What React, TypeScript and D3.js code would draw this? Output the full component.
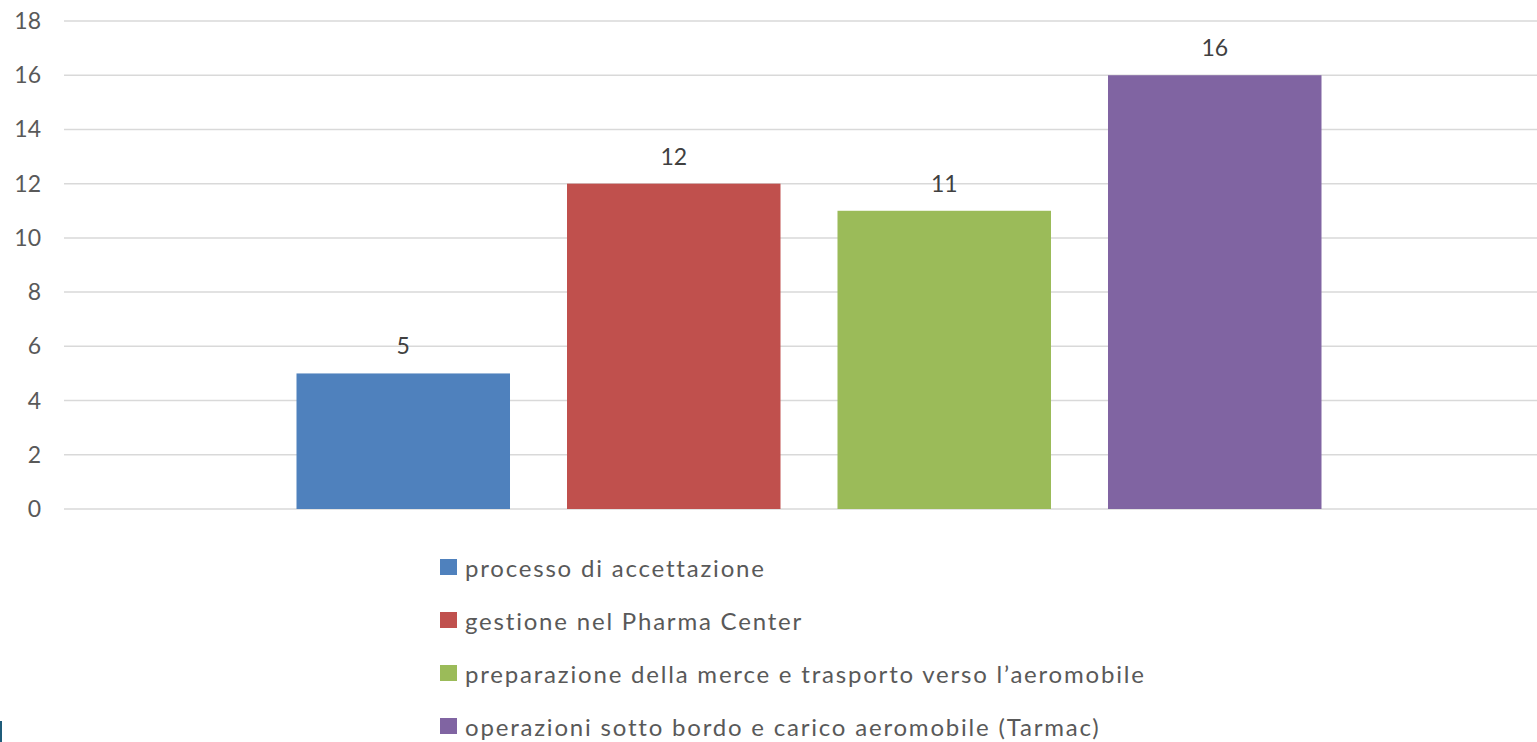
import React from "react";
import * as d3 from "d3";

const series = [
  "processo di accettazione",
  "gestione nel Pharma Center",
  "preparazione della merce e trasporto verso l\u2019aeromobile",
  "operazioni sotto bordo e carico aeromobile (Tarmac)",
];
const values = [5, 12, 11, 16];
const colors = ["#4F81BD", "#C0504D", "#9BBB59", "#8064A2"];
const yTicks = [0, 2, 4, 6, 8, 10, 12, 14, 16, 18];

const W = 1537;
const H = 742;
const plotLeft = 64;
const plotRight = 1554;
const y0 = 509;
const yTop = 21;

export default function App() {
  const y = d3.scaleLinear().domain([0, 18]).range([y0, yTop]);
  const outer = d3.scaleBand<string>().domain(["cat"]).range([plotLeft, plotRight]).paddingInner(0).paddingOuter(0);
  const groupCenter = (outer("cat") as number) + outer.bandwidth() / 2;
  const groupWidth = 1025;
  const inner = d3
    .scaleBand<string>()
    .domain(series)
    .range([groupCenter - groupWidth / 2, groupCenter + groupWidth / 2])
    .paddingInner(0.2107)
    .paddingOuter(0);
  const font = "Lato, 'Open Sans', sans-serif";
  const textColor = "#595959";
  return (
    <svg
      width={W}
      height={H}
      style={{ position: "fixed", left: 0, top: 0, background: "#fff" }}
      fontFamily={font}
    >
      <rect x={0} y={0} width={W} height={H} fill="#fff" />
      {yTicks.map((t) => (
        <g key={t}>
          <line x1={plotLeft} x2={W} y1={y(t)} y2={y(t)} stroke="#D9D9D9" strokeWidth={1.5} />
          <text x={41} y={y(t)} dy="0.35em" textAnchor="end" fontSize={23} fill={textColor}>
            {t}
          </text>
        </g>
      ))}
      {series.map((s, i) => {
        const x = inner(s) as number;
        const bw = inner.bandwidth();
        return (
          <g key={s}>
            <rect x={x} y={y(values[i])} width={bw} height={y(0) - y(values[i])} fill={colors[i]} />
            <text
              x={x + bw / 2}
              y={y(values[i]) - 19}
              textAnchor="middle"
              fontSize={23}
              fill="#404040"
            >
              {values[i]}
            </text>
          </g>
        );
      })}
      {series.map((s, i) => (
        <g key={"l" + s} transform={`translate(440, ${559 + i * 53})`}>
          <rect x={0} y={0} width={17} height={16} fill={colors[i]} />
          <text x={25} y={18} fontSize={24} letterSpacing={1.8} fill={textColor}>
            {s}
          </text>
        </g>
      ))}
      <rect x={0} y={721} width={2} height={21} fill="#1F5C7A" />
    </svg>
  );
}
